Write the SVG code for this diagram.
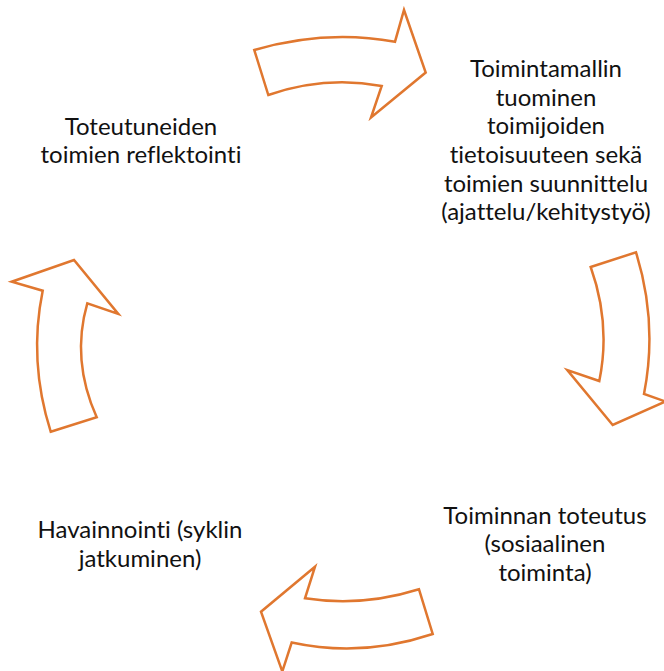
<svg xmlns="http://www.w3.org/2000/svg" width="664" height="671" viewBox="0 0 664 671">
  <style>
    .label { font-family: Lato, "Open Sans", "Liberation Sans", sans-serif; font-size: 24px; fill: #111111; text-anchor: middle; font-variant-ligatures: none; font-feature-settings: "liga" 0, "clig" 0; }
    .cycle-arrow { fill: #ffffff; stroke: #E0772F; stroke-width: 2.5; stroke-linejoin: miter; }
  </style>
  <rect width="664" height="671" fill="#ffffff"/>

  <!-- curved block arrows between the stages -->
  <g id="connectors">
    <path id="arrow-top" class="cycle-arrow" d="M254.3,50 Q325.4,29.2 395,41.7 L404,10 L425.7,72.5 L371,117.5 L381.7,86 Q325,75.5 268.3,95 Z"/>
    <path id="arrow-right" class="cycle-arrow" d="M590.7,267 L636,252.3 Q658,322.9 644,394 L665.5,401.5 L612.7,425 L567.3,370 L599.3,381 Q611,324 590.7,267 Z"/>
    <path id="arrow-bottom" class="cycle-arrow" d="M419,589.3 L432.7,634 Q361.8,657.8 291.7,642.5 L282.3,671.5 L261,611.7 L315,566.7 L305,598.3 Q362,607.2 419,589.3 Z"/>
    <path id="arrow-left" class="cycle-arrow" d="M50.7,431.7 L96.7,417.3 Q71,359.7 87.3,303.3 L118.3,314 L74,260 L11.7,281.7 L42.7,290.7 Q28.3,360.8 50.7,431.7 Z"/>
  </g>

  <g id="node-planning">
    <text class="label" x="546" y="77">Toimintamallin</text>
    <text class="label" x="546" y="105.7">tuominen</text>
    <text class="label" x="546" y="134.4">toimijoiden</text>
    <text class="label" x="546" y="163">tietoisuuteen sekä</text>
    <text class="label" x="546" y="191.7">toimien suunnittelu</text>
    <text class="label" x="546" y="220.4">(ajattelu/kehitystyö)</text>
  </g>

  <g id="node-action">
    <text class="label" x="545" y="523.5">Toiminnan toteutus</text>
    <text class="label" x="545" y="552">(sosiaalinen</text>
    <text class="label" x="545" y="580.5">toiminta)</text>
  </g>

  <g id="node-observation">
    <text class="label" x="140" y="538">Havainnointi (syklin</text>
    <text class="label" x="140" y="566.5">jatkuminen)</text>
  </g>

  <g id="node-reflection">
    <text class="label" x="141" y="134.5">Toteutuneiden</text>
    <text class="label" x="141" y="163">toimien reflektointi</text>
  </g>
</svg>
